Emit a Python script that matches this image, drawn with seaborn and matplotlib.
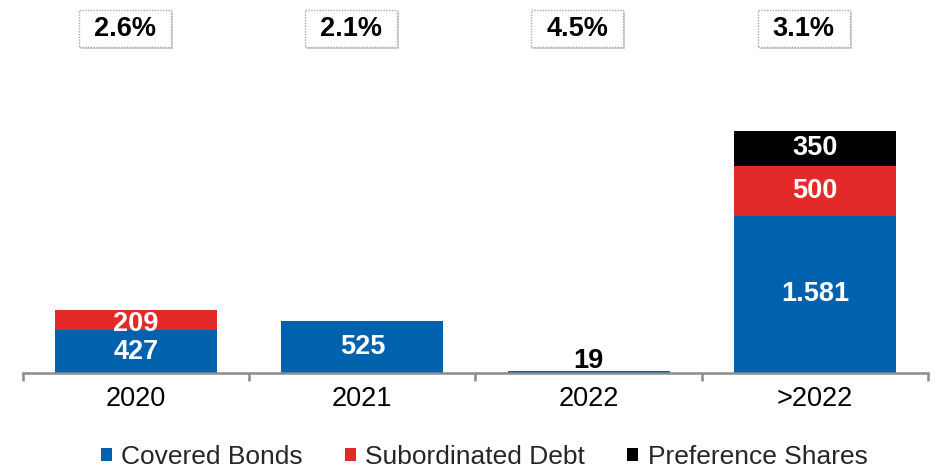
import matplotlib
matplotlib.use("Agg")
import matplotlib.pyplot as plt
import matplotlib.patheffects as pe
from matplotlib.patches import Rectangle
from matplotlib.transforms import blended_transform_factory
import numpy as np
import pandas as pd
import seaborn as sns

# Maturity buckets and amounts (EUR m)
periods = ["2020", "2021", "2022", ">2022"]
covered_bonds = [427, 525, 19, 1581]
subordinated_debt = [209, 0, 0, 500]
preference_shares = [0, 0, 0, 350]
avg_cost = ["2.6%", "2.1%", "4.5%", "3.1%"]

series_names = ["Covered Bonds", "Subordinated Debt", "Preference Shares"]
series_colors = ["#0061AD", "#E42A28", "#000000"]

sns.set_theme(style="white")
plt.rcParams["font.family"] = ["Liberation Sans", "DejaVu Sans"]

fig = plt.figure(figsize=(9.37, 4.69), dpi=100)
ax = fig.add_axes([23 / 937, 1 - 373 / 469, (928 - 23) / 937, (373 - 60) / 469])

df = pd.DataFrame({
    "period": periods,
    "Covered Bonds": covered_bonds,
    "Subordinated Debt": subordinated_debt,
    "Preference Shares": preference_shares,
})

bottom = np.zeros(len(periods))
bar_width = 0.717
for name, color in zip(series_names, series_colors):
    vals = df[name].to_numpy(dtype=float)
    sns.barplot(data=df, x="period", y=name, color=color, width=bar_width,
                bottom=bottom, ax=ax, saturation=1, edgecolor="none",
                linewidth=0, order=periods)
    bottom = bottom + vals

def fmt(v):
    return f"{int(v):,}".replace(",", ".")

# segment labels
label_size = 19.5
bottom = np.zeros(len(periods))
for name in series_names:
    vals = df[name].to_numpy(dtype=float)
    for i, v in enumerate(vals):
        if v <= 0:
            continue
        if v < 60:
            ax.annotate(fmt(v), (i, bottom[i] + v), xytext=(0, 2),
                        textcoords="offset points", ha="center", va="baseline",
                        fontsize=label_size, fontweight="bold", color="black")
        else:
            # short segments sitting on another one: nudge label slightly down
            dy = -3 if (v < 250 and bottom[i] > 0) else 0
            ax.annotate(fmt(v), (i, bottom[i] + v / 2), xytext=(0, dy),
                        textcoords="offset points", ha="center", va="center",
                        fontsize=label_size, fontweight="bold", color="white")
    bottom = bottom + vals

ax.set_xlim(-0.5, 3.5)
ax.set_ylim(0, 3143)
ax.set_xlabel("")
ax.set_ylabel("")
ax.set_yticks([])
for s in ["top", "left", "right"]:
    ax.spines[s].set_visible(False)
ax.spines["bottom"].set_color("#8C8C8C")
ax.spines["bottom"].set_linewidth(1.8)
ax.set_xticks(range(len(periods)))
ax.set_xticklabels(periods, fontsize=19.5, color="black")
ax.set_xticks(np.arange(-0.5, len(periods), 1.0), minor=True)
ax.tick_params(axis="x", which="major", length=0, pad=9)
ax.tick_params(axis="x", which="minor", length=6, width=1.8, color="#8C8C8C",
               direction="out", bottom=True)

# average cost boxes above each bucket
trans = blended_transform_factory(ax.transData, fig.transFigure)
box_w = 92 / 226
y0 = 1 - 47 / 469
y1 = 1 - 10 / 469
for i, label in enumerate(avg_cost):
    cx = i - 0.05
    rect = Rectangle((cx - box_w / 2, y0), box_w, y1 - y0, transform=trans,
                     facecolor="white", edgecolor="#A8A8A8", linewidth=1.0,
                     linestyle=(0, (1, 1)), clip_on=False, zorder=5)
    rect.set_path_effects([pe.SimplePatchShadow(offset=(1.5, -1.5), alpha=0.18,
                                                shadow_rgbFace="#000000"),
                           pe.Normal()])
    ax.add_patch(rect)
    ax.text(cx, (y0 + y1) / 2, label, transform=trans, ha="center",
            va="center", fontsize=19.5, fontweight="bold", color="black",
            zorder=6, clip_on=False)

handles = [Rectangle((0, 0), 1, 1, facecolor=c, edgecolor="none")
           for c in series_colors]
fig.legend(handles, series_names, loc="center", bbox_to_anchor=(484 / 937, 1 - 457 / 469),
           ncol=3, frameon=False, fontsize=19, handlelength=0.42, handleheight=0.42,
           handletextpad=0.35, columnspacing=1.6, borderaxespad=0)

fig.savefig("out.png", dpi=100)
